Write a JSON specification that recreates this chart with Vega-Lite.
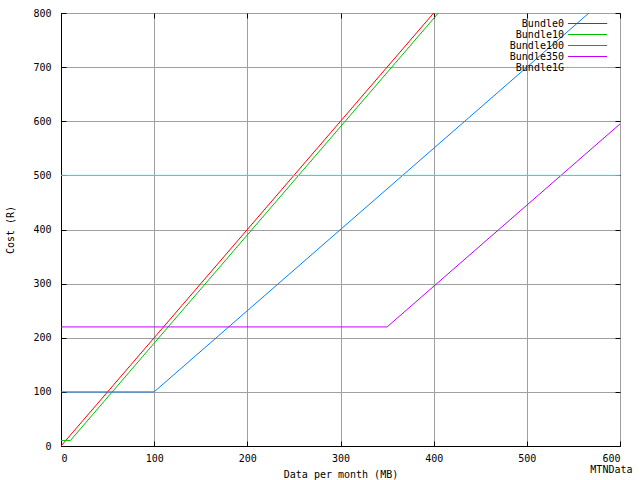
{
  "$schema": "https://vega.github.io/schema/vega-lite/v6.json",
  "autosize": "none",
  "width": 559,
  "height": 433,
  "padding": {"left": 61, "top": 13, "right": 20, "bottom": 34},
  "background": "white",
  "config": {
    "font": "DejaVu Sans Mono",
    "view": {"stroke": "black", "strokeWidth": 1},
    "axis": {
      "labelFont": "DejaVu Sans Mono", "labelFontSize": 10, "labelColor": "black",
      "titleFont": "DejaVu Sans Mono", "titleFontSize": 10, "titleFontWeight": "normal", "titleColor": "black",
      "gridColor": "#a0a0a0", "gridOpacity": 1, "gridWidth": 1,
      "domainColor": "black", "tickColor": "black", "tickSize": -5
    }
  },
  "title": {"text": "MTNData", "orient": "bottom", "anchor": "end", "offset": -14, "dx": 12, "font": "DejaVu Sans Mono", "fontSize": 10, "fontWeight": "normal", "color": "black"},
  "data": {"values": [
    {"series": "Bundle0", "x": 0, "y": 0},
    {"series": "Bundle0", "x": 400, "y": 800},
    {"series": "Bundle10", "x": 0, "y": 10},
    {"series": "Bundle10", "x": 10, "y": 10},
    {"series": "Bundle10", "x": 405, "y": 800},
    {"series": "Bundle100", "x": 0, "y": 100},
    {"series": "Bundle100", "x": 100, "y": 100},
    {"series": "Bundle100", "x": 566.67, "y": 800},
    {"series": "Bundle350", "x": 0, "y": 220},
    {"series": "Bundle350", "x": 350, "y": 220},
    {"series": "Bundle350", "x": 600, "y": 595},
    {"series": "Bundle1G", "x": 0, "y": 500},
    {"series": "Bundle1G", "x": 600, "y": 500}
  ]},
  "layer": [
    {
      "mark": {"type": "line", "clip": true},
      "encoding": {
        "x": {"field": "x", "type": "quantitative", "scale": {"domain": [0, 600], "nice": false},
          "axis": {"title": "Data per month (MB)", "values": [0,100,200,300,400,500,600], "labelPadding": 12, "titlePadding": 6}},
        "y": {"field": "y", "type": "quantitative", "scale": {"domain": [0, 800], "nice": false},
          "axis": {"title": "Cost (R)", "values": [0,100,200,300,400,500,600,700,800], "labelPadding": 15, "titlePadding": 17}},
        "color": {"field": "series", "type": "nominal",
          "scale": {"domain": ["Bundle0", "Bundle10", "Bundle100", "Bundle350", "Bundle1G"],
                    "range": ["#ff0000", "#00c000", "#0080ff", "#c000ff", "#00eeee"]},
          "legend": {"title": null, "orient": "none", "legendX": 507, "legendY": 5, "padding": 0,
            "symbolType": "M-3.9,0H3.9", "symbolSize": 100, "symbolStrokeWidth": 1, "symbolOffset": 14,
            "labelFont": "DejaVu Sans Mono", "labelFontSize": 10, "labelColor": "black",
            "labelAlign": "right", "labelOffset": -29, "rowPadding": 0}},
        "strokeWidth": {"field": "series", "type": "nominal",
          "scale": {"domain": ["Bundle0", "Bundle10", "Bundle100", "Bundle350", "Bundle1G"], "range": [1, 1, 1, 1, 2]},
          "legend": null},
        "order": {"field": "x", "type": "quantitative"}
      }
    },
    {
      "mark": {"type": "line", "opacity": 0},
      "encoding": {
        "x": {"field": "x", "type": "quantitative",
          "axis": {"orient": "top", "title": null, "labels": false, "grid": false, "domain": false, "values": [0,100,200,300,400,500,600]}},
        "y": {"field": "y", "type": "quantitative",
          "axis": {"orient": "right", "title": null, "labels": false, "grid": false, "domain": false, "values": [0,100,200,300,400,500,600,700,800]}},
        "detail": {"field": "series"}
      }
    }
  ],
  "resolve": {"axis": {"x": "independent", "y": "independent"}}
}
